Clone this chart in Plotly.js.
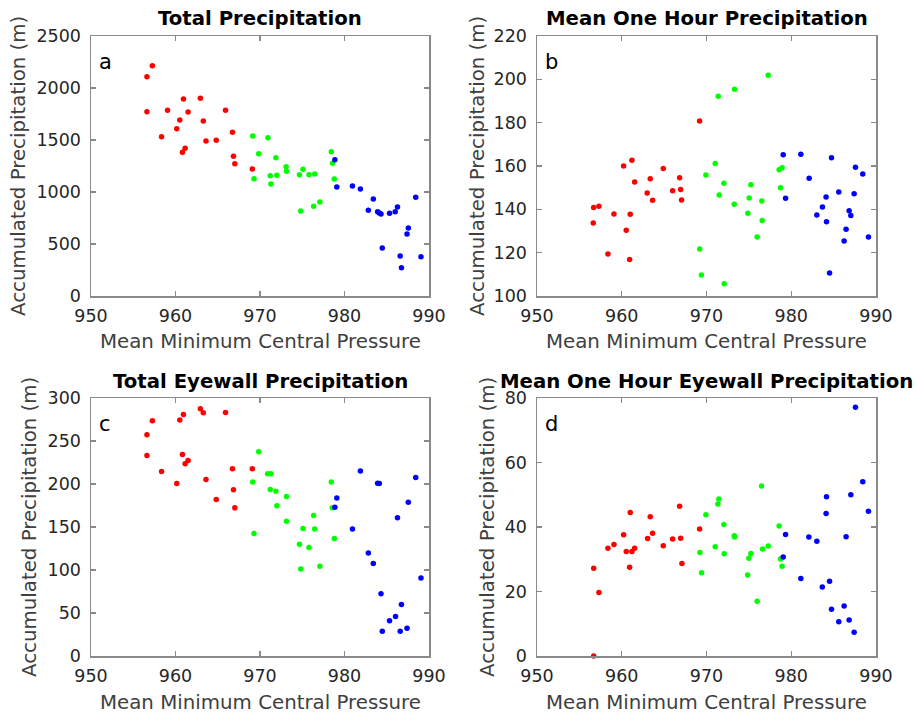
<!DOCTYPE html>
<html>
<head>
<meta charset="utf-8">
<script src="https://cdn.plot.ly/plotly-3.0.1.min.js"></script>
<style>html,body{margin:0;padding:0;background:#fff;}#chart{width:916px;height:713px;}</style>
</head>
<body>
<div id="chart"></div>
<script>
// ---- Data ----
const xTicks = [950, 960, 970, 980, 990];

// a: Total Precipitation
const redXA = [957.26, 956.62, 960.94, 962.94, 956.62, 959.06, 961.49, 965.92, 960.51, 963.29, 960.15, 966.74, 958.35, 963.61, 964.82, 961.14, 960.82, 966.86, 967.02, 969.09];
const redYA = [2214, 2109, 1894, 1901, 1772, 1786, 1769, 1786, 1692, 1683, 1609, 1574, 1532, 1490, 1497, 1420, 1382, 1343, 1272, 1221];
const greenXA = [969.14, 970.94, 969.85, 971.88, 973.09, 973.14, 969.29, 971.21, 972.0, 971.29, 974.67, 975.09, 975.8, 976.47, 978.44, 978.59, 978.79, 974.82, 976.35, 977.09];
const greenYA = [1538, 1522, 1368, 1330, 1243, 1199, 1128, 1157, 1161, 1077, 1166, 1218, 1166, 1173, 1388, 1276, 1125, 817, 863, 904];
const blueXA = [978.86, 979.09, 980.94, 981.88, 983.41, 982.82, 983.92, 984.12, 984.32, 985.33, 986.0, 986.27, 984.47, 986.59, 986.74, 988.43, 987.55, 987.4, 989.05];
const blueYA = [1311, 1048, 1058, 1029, 933, 824, 811, 798, 788, 795, 811, 856, 462, 385, 272, 949, 654, 596, 378];

// b: Mean One Hour Precipitation
const redXB = [969.19, 961.2, 960.22, 964.9, 963.36, 966.83, 961.52, 963.0, 966.0, 966.95, 963.64, 967.06, 956.68, 957.31, 959.08, 961.0, 956.64, 960.53, 958.37, 960.93];
const redYB = [180.8, 162.6, 160.0, 158.8, 154.1, 154.6, 152.6, 147.5, 148.6, 149.1, 144.2, 144.3, 140.8, 141.4, 137.8, 137.7, 133.7, 130.3, 119.4, 116.8];
const greenXB = [977.28, 973.31, 971.38, 971.03, 969.93, 972.05, 975.24, 971.5, 975.04, 976.53, 973.27, 974.88, 976.57, 975.98, 978.73, 978.57, 978.92, 969.2, 969.4, 972.09];
const greenYB = [201.9, 195.4, 192.2, 161.1, 155.8, 152.0, 151.4, 146.6, 145.2, 143.8, 142.3, 138.2, 134.8, 127.2, 150.0, 158.3, 159.2, 121.7, 109.7, 105.7];
const blueXB = [979.05, 981.13, 984.75, 987.58, 988.44, 982.11, 985.61, 987.42, 984.11, 979.33, 983.68, 986.83, 987.03, 983.02, 984.16, 986.47, 989.11, 986.24, 984.52];
const blueYB = [165.2, 165.4, 163.8, 159.4, 156.3, 154.3, 148.0, 147.2, 145.7, 145.1, 141.1, 139.4, 137.1, 137.4, 134.3, 130.8, 127.2, 125.4, 110.6];

// c: Total Eyewall Precipitation
const redXC = [959.06, 957.26, 956.62, 956.62, 960.94, 960.51, 962.94, 963.29, 965.92, 960.82, 961.49, 961.14, 958.35, 966.74, 963.61, 960.15, 966.86, 964.82, 967.02, 969.09];
const redYC = [301.2, 273.6, 257.3, 233.2, 280.9, 274.4, 287.5, 282.9, 283.2, 234.3, 227.4, 223.5, 214.6, 217.7, 205.2, 200.6, 193.2, 182.0, 172.3, 217.7];
const greenXC = [969.85, 970.9, 971.29, 969.14, 978.44, 971.21, 971.88, 973.14, 972.0, 978.55, 976.35, 973.14, 975.09, 976.47, 969.29, 978.79, 974.67, 975.8, 977.09, 974.82];
const greenYC = [237.5, 211.9, 211.9, 202.2, 202.2, 193.6, 191.7, 185.5, 174.6, 172.3, 163.3, 156.8, 148.2, 147.8, 142.4, 136.6, 130.0, 126.1, 104.4, 101.3];
const blueXC = [981.88, 983.92, 984.12, 979.09, 978.86, 986.27, 980.94, 982.82, 983.41, 984.32, 986.74, 986.04, 985.33, 984.47, 986.59, 988.43, 987.55, 989.05, 987.4];
const blueYC = [215.0, 201.0, 200.5, 183.6, 173.1, 160.7, 147.8, 119.9, 107.5, 72.5, 60, 46, 41, 28.7, 28.7, 207.6, 178.9, 90.8, 32.2];

// d: Mean One Hour Eyewall Precipitation
const redXD = [956.69, 957.31, 956.69, 958.37, 959.08, 960.22, 960.53, 961.2, 961.52, 961.0, 960.93, 963.36, 963.05, 963.64, 964.9, 966.0, 966.95, 966.83, 967.1, 969.19];
const redYD = [0, 19.7, 27.2, 33.4, 34.6, 37.6, 32.4, 32.4, 33.4, 44.5, 27.5, 43.2, 36.4, 38.1, 34.2, 36.3, 36.5, 46.4, 28.7, 39.4];
const greenXD = [976.5, 971.46, 971.34, 969.93, 972.05, 973.27, 973.31, 978.57, 971.03, 977.28, 976.62, 975.24, 972.09, 969.22, 975.0, 978.73, 978.92, 969.42, 974.85, 975.98];
const greenYD = [52.7, 48.7, 47.1, 43.8, 40.8, 37.3, 36.9, 40.3, 33.9, 34.1, 33.2, 31.8, 31.7, 32.1, 30.3, 30.1, 27.8, 25.8, 25.1, 17.0];
const blueXD = [987.58, 988.44, 987.03, 984.16, 989.11, 984.11, 979.33, 982.08, 986.47, 983.02, 979.05, 981.13, 984.52, 983.66, 986.24, 984.75, 986.83, 985.61, 987.42];
const blueYD = [77.1, 54.0, 50.0, 49.4, 44.9, 44.2, 37.7, 36.9, 37.0, 35.6, 30.7, 24.0, 23.2, 21.4, 15.5, 14.5, 11.2, 10.6, 7.4];

const titles = ["Total Precipitation", "Mean One Hour Precipitation", "Total Eyewall Precipitation", "Mean One Hour Eyewall Precipitation"];
const panelLetters = ["a", "b", "c", "d"];
const yRanges = [[0, 2500], [100, 220], [0, 300], [0, 80]];
const yDticks = [500, 20, 50, 20];
const xLabel = "Mean Minimum Central Pressure";
const yLabel = "Accumulated Precipitation (m)";

// ---- Build ----
const W = 916, H = 713;
const px = v => v / W;
const py = v => 1 - v / H;
// plot boxes in pixels [left, right, top, bottom]
const boxes = [[91, 429, 36, 296], [537, 876, 36, 296], [91, 429, 398, 656], [537, 876, 398, 656]];
const yLabelX = [19, 478, 29, 487];

const colors = {red: "#ff0000", green: "#00ff00", blue: "#0000ff"};
const sets = [
  [[redXA, redYA, "red"], [greenXA, greenYA, "green"], [blueXA, blueYA, "blue"]],
  [[redXB, redYB, "red"], [greenXB, greenYB, "green"], [blueXB, blueYB, "blue"]],
  [[redXC, redYC, "red"], [greenXC, greenYC, "green"], [blueXC, blueYC, "blue"]],
  [[redXD, redYD, "red"], [greenXD, greenYD, "green"], [blueXD, blueYD, "blue"]]
];

const traces = [];
const layout = {
  width: W, height: H,
  margin: {l: 0, r: 0, t: 0, b: 0},
  paper_bgcolor: "#ffffff", plot_bgcolor: "#ffffff",
  showlegend: false,
  font: {family: "DejaVu Sans", color: "#262626"},
  annotations: []
};

const tickFont = {family: "DejaVu Sans", size: 17.5, color: "#262626"};
sets.forEach((group, i) => {
  const n = i === 0 ? "" : String(i + 1);
  group.forEach(([xs, ys, c]) => {
    traces.push({
      type: "scatter", mode: "markers", x: xs, y: ys,
      xaxis: "x" + n, yaxis: "y" + n, cliponaxis: false,
      marker: {color: colors[c], size: 5.5, line: {width: 0}},
      hoverinfo: "x+y"
    });
  });
  const b = boxes[i];
  const common = {
    showgrid: false, zeroline: false, showline: true, linecolor: "#8a8a8a", linewidth: 1.5,
    mirror: "ticks", ticks: "inside", ticklen: 5, tickwidth: 1.2, tickcolor: "#8a8a8a",
    tickfont: tickFont, fixedrange: true
  };
  layout["xaxis" + n] = Object.assign({}, common, {
    domain: [px(b[0]), px(b[1])], range: [950, 990], tickvals: xTicks,
    anchor: "y" + n, ticklabelstandoff: 3
  });
  layout["yaxis" + n] = Object.assign({}, common, {
    domain: [py(b[3]), py(b[2])], range: yRanges[i], dtick: yDticks[i], tick0: 0,
    anchor: "x" + n, ticklabelstandoff: 5
  });
  const cx = (b[0] + b[1]) / 2;
  const cy = (b[2] + b[3]) / 2;
  layout.annotations.push({
    text: titles[i], xref: "paper", yref: "paper", x: px(cx), y: py(b[2] - 17),
    xanchor: "center", yanchor: "middle", showarrow: false,
    font: {family: "DejaVu Sans", size: 19.7, weight: "bold", color: "#000000"}
  });
  layout.annotations.push({
    text: xLabel, xref: "paper", yref: "paper", x: px(cx), y: py(b[3] + 46),
    xanchor: "center", yanchor: "middle", showarrow: false,
    font: {family: "DejaVu Sans", size: 19.8, color: "#404040"}
  });
  layout.annotations.push({
    text: yLabel, xref: "paper", yref: "paper", x: px(yLabelX[i]), y: py(cy),
    xanchor: "center", yanchor: "middle", showarrow: false, textangle: -90,
    font: {family: "DejaVu Sans", size: 19.8, color: "#404040"}
  });
  layout.annotations.push({
    text: panelLetters[i], xref: "paper", yref: "paper", x: px(b[0] + 14), y: py(b[2] + 26),
    xanchor: "center", yanchor: "middle", showarrow: false,
    font: {family: "DejaVu Sans", size: 21, color: "#000000"}
  });
});

Plotly.newPlot("chart", traces, layout, {staticPlot: true, displayModeBar: false});
</script>
</body>
</html>
